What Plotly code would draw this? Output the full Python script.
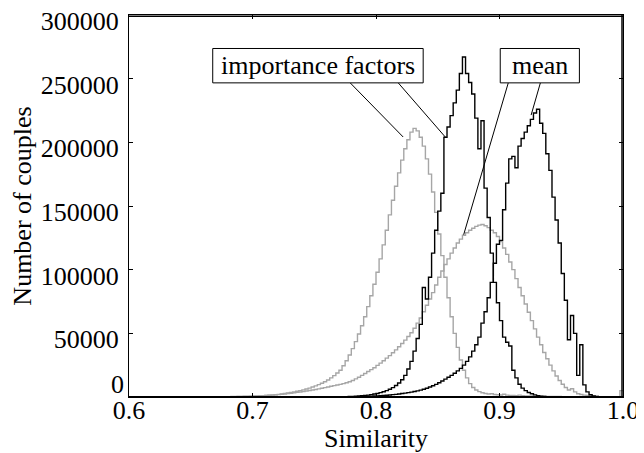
import numpy as np
import plotly.graph_objects as go

BIN = 0.0025

# Gray series 1 (importance factors, lower-similarity peak) — counts per bin starting at 0.680
gray_a_start = 0.680
gray_a = [200, 250, 300, 350, 400, 450, 500, 600, 700, 800, 900, 1000, 1200, 1400, 1600, 1800,
          2100, 2400, 2700, 3100, 3500, 4000, 4500, 5000, 5600, 6300, 7000, 7800, 8700, 9700,
          10800, 12000, 13400, 15000, 16800, 18800, 21000, 24500, 28500, 33000, 38000, 43500,
          49500, 56000, 63000, 71000, 79500, 88500, 98000, 108500, 119500, 131000, 143000,
          154500, 165500, 176000, 186000, 195000, 202000, 208000, 211000, 209000, 204000,
          197000, 187000, 175000, 161000, 145000, 128000, 111000, 94000, 78000, 63000, 50000,
          39000, 29000, 21000, 15000, 10500, 7500, 5500, 4200, 3300, 2700, 2300, 2600, 2000,
          1800, 1600, 2200, 1500, 1300, 1200, 1100, 1500, 1000, 900, 800, 800, 700, 700, 600,
          600, 500, 500, 400, 400, 400, 300, 300, 300, 300, 300, 200, 200, 100, 100]

# Gray series 2 (mean, broad) — starting at 0.680
gray_c_start = 0.680
gray_c = [300, 350, 400, 450, 500, 560, 620, 700, 780, 870, 970, 1080, 1200, 1350, 1500, 1700,
          1900, 2150, 2400, 2700, 3000, 3300, 3600, 3950, 4300, 4700, 5100, 5500, 5900, 6400,
          6900, 7400, 7900, 8400, 8900, 9400, 9900, 10500, 11200, 12000, 13000, 14200, 15500,
          17000, 18500, 20000, 21500, 23000, 24800, 26600, 28500, 30500, 32500, 34700, 37000,
          39500, 42000, 44700, 47500, 50500, 54000, 58000, 62000, 67000, 72000, 77000, 82000,
          88000, 94000, 99000, 104000, 108500, 113000, 117000, 121000, 124000, 127000, 129000,
          131000, 132500, 134000, 135000, 135500, 134500, 133000, 131000, 129000, 126000,
          122000, 117000, 112000, 106000, 100000, 93000, 86000, 79500, 73000, 66500, 60000,
          53500, 47000, 41000, 35000, 30000, 25000, 20500, 16500, 13000, 10000, 7500, 5500,
          6500, 4000, 2500, 2000, 1500, 1200, 900, 600, 400, 300, 200, 100, 0, 0, 0, 0, 5000]

# Black series 1 (importance factors) — starting at 0.760
black_b_start = 0.760
black_b = [100, 120, 150, 180, 220, 270, 330, 400, 500, 620, 780, 980, 1200, 1500, 1850, 2300,
           2800, 3400, 4100, 5000, 6100, 7400, 9000, 11000, 13500, 17000, 22000, 28000, 36000,
           46000, 57000, 86000, 77000, 94000, 113000, 131000, 146000, 160000, 204000, 212000,
           221000, 231000, 241000, 254000, 267000, 254000, 247000, 238000, 219000, 195000,
           217000, 164000, 141000, 113000, 90000, 74000, 60000, 47000, 43000, 40000, 21000,
           15000, 10000, 7000, 5000, 3500, 2500, 1700, 1100, 700, 400, 200, 100]

# Black series 2 (mean) — starting at 0.780
black_d_start = 0.780
black_d = [200, 250, 300, 380, 460, 550, 650, 770, 900, 1050, 1200, 1400, 1600, 1850, 2100,
           2400, 2700, 3050, 3400, 3800, 4300, 4800, 5400, 6100, 6900, 7800, 8800, 9900, 11200,
           12600, 14000, 15500, 17000, 18700, 20500, 22500, 25000, 28000, 31500, 36000, 41000,
           47000, 58000, 67000, 78000, 90000, 105000, 120000, 123000, 147000, 168000, 187000,
           189000, 180000, 197000, 203000, 208000, 213000, 218000, 223000, 226000, 215000,
           207000, 191000, 178000, 157000, 139000, 121000, 97000, 76000, 45000, 64000, 50000,
           17000, 41000, 9500, 4000, 1800, 800, 400, 200, 100]

x_ticks = [0.6, 0.7, 0.8, 0.9, 1.0]
y_ticks = [0, 50000, 100000, 150000, 200000, 250000, 300000]

labels = ["importance factors", "mean"]
# label boxes: (x0, x1, y0, y1) in data units
label_boxes = [(0.6678, 0.8382, 246700, 273700), (0.9006, 0.9647, 246700, 273700)]
# leader lines: (x_start, y_start, x_end, y_end)
label_lines = [
    [(0.7791, 246700, 0.8220, 204200), (0.8180, 246700, 0.8561, 204200)],
    [(0.9071, 246700, 0.8710, 127500), (0.9331, 246700, 0.9256, 221400)],
]

X0, X1 = 0.6, 1.0
NB = int(round((X1 - X0) / BIN))
edges = X0 + BIN * np.arange(NB + 1)


def full_counts(start, vals):
    c = np.zeros(NB)
    i0 = int(round((start - X0) / BIN))
    for j, v in enumerate(vals):
        if 0 <= i0 + j < NB:
            c[i0 + j] = v
    return c


def step_trace(start, vals, color, width):
    c = full_counts(start, vals)
    y = np.append(c, c[-1])
    return go.Scatter(x=edges, y=y, mode="lines", line=dict(color=color, width=width, shape="hv"),
                      showlegend=False, hoverinfo="skip")


GRAY = "#a6a6a6"
BLACK = "#000000"
fig = go.Figure()
fig.add_trace(step_trace(gray_a_start, gray_a, GRAY, 1.4))
fig.add_trace(step_trace(gray_c_start, gray_c, GRAY, 1.4))
fig.add_trace(step_trace(black_b_start, black_b, BLACK, 1.4))
fig.add_trace(step_trace(black_d_start, black_d, BLACK, 1.4))

FONT = "Liberation Serif"
FS = 26

shapes = []
for lines in label_lines:
    for (xs, ys, xe, ye) in lines:
        shapes.append(dict(type="line", xref="x", yref="y", x0=xs, y0=ys, x1=xe, y1=ye,
                           line=dict(color="black", width=1), layer="above"))
for (bx0, bx1, by0, by1) in label_boxes:
    shapes.append(dict(type="rect", xref="x", yref="y", x0=bx0, x1=bx1, y0=by0, y1=by1,
                       line=dict(color="black", width=1), fillcolor="white", layer="above"))
# explicit frame lines (top and right), slightly inset, plus a thicker baseline
shapes.append(dict(type="line", xref="paper", yref="paper", x0=0, x1=1, y0=0.997, y1=0.997,
                   line=dict(color="black", width=1.5), layer="above"))
shapes.append(dict(type="line", xref="paper", yref="paper", x0=0.998, x1=0.998, y0=0, y1=1,
                   line=dict(color="black", width=1.5), layer="above"))
shapes.append(dict(type="line", xref="paper", yref="y", x0=0, x1=1, y0=0, y1=0,
                   line=dict(color="black", width=2), layer="above"))

annotations = []
for txt, (bx0, bx1, by0, by1) in zip(labels, label_boxes):
    annotations.append(dict(x=(bx0 + bx1) / 2, y=(by0 + by1) / 2, xref="x", yref="y", text=txt,
                            showarrow=False, font=dict(family=FONT, size=FS, color="black"),
                            xanchor="center", yanchor="middle"))
# the "0" y tick label sits just above the baseline in the reference
annotations.append(dict(x=0, y=y_ticks[0], xref="paper", yref="y", text=str(y_ticks[0]),
                        showarrow=False, xanchor="right", yanchor="bottom", xshift=-3, yshift=-4,
                        font=dict(family=FONT, size=FS, color="black")))

# the page body adds an 8px margin, so the figure is drawn 8px smaller and offset
fig.update_layout(
    width=636, height=445,
    margin=dict(l=121, r=21, t=7, b=56),
    paper_bgcolor="white", plot_bgcolor="white",
    font=dict(family=FONT, size=FS, color="black"),
    shapes=shapes, annotations=annotations,
    xaxis=dict(range=[X0, X1], tickvals=x_ticks, ticktext=[f"{v:.1f}" for v in x_ticks],
               ticks="inside", ticklen=4, tickcolor="black", showline=True, linecolor="black",
               linewidth=1, mirror="ticks", showgrid=False, zeroline=False, automargin=False,
               ticklabelstandoff=-10, ticklabeloverflow="allow",
               title=dict(text="Similarity", standoff=0, font=dict(family=FONT, size=FS))),
    yaxis=dict(range=[0, 300000], tickvals=y_ticks[1:], ticktext=[str(v) for v in y_ticks[1:]],
               ticks="inside", ticklen=4, tickcolor="black", showline=True, linecolor="black",
               linewidth=1, mirror="ticks", showgrid=False, zeroline=False, automargin=False,
               ticklabelstandoff=4, ticklabelshift=6, ticklabeloverflow="allow",
               title=dict(text="Number of couples", standoff=10, font=dict(family=FONT, size=FS))),
)

fig.write_html("out.html", config={"displayModeBar": False})
